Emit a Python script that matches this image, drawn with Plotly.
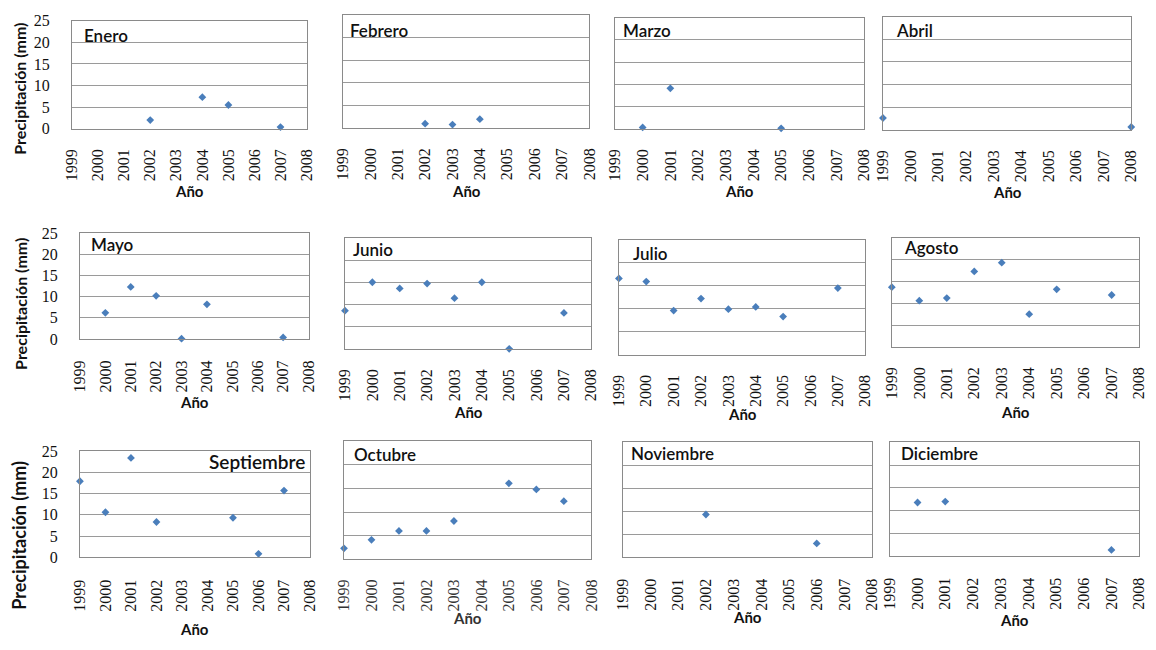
import plotly.graph_objects as go

W, H = 1156, 650

# Year axis shared by every month
anios_eje = list(range(1999, 2009))
y_ticks = [0, 5, 10, 15, 20, 25]

meses = ["Enero", "Febrero", "Marzo", "Abril", "Mayo", "Junio",
         "Julio", "Agosto", "Septiembre", "Octubre", "Noviembre", "Diciembre"]

# Monthly precipitation (mm) by year
enero_anios = [2002, 2004, 2005, 2007]
enero_mm = [2.0, 7.3, 5.5, 0.4]
febrero_anios = [2002, 2003, 2004]
febrero_mm = [0.9, 0.7, 1.9]
marzo_anios = [2000, 2001, 2005]
marzo_mm = [0.3, 9.1, 0.1]
abril_anios = [1999, 2008]
abril_mm = [2.6, 0.6]
mayo_anios = [2000, 2001, 2002, 2003, 2004, 2007]
mayo_mm = [6.2, 12.3, 10.2, 0.1, 8.2, 0.4]
junio_anios = [1999, 2000, 2001, 2002, 2003, 2004, 2005, 2007]
junio_mm = [8.6, 15.0, 13.6, 14.7, 11.4, 15.0, 0.0, 8.1]
julio_anios = [1999, 2000, 2001, 2002, 2003, 2004, 2005, 2007]
julio_mm = [16.6, 15.9, 9.6, 12.2, 9.9, 10.4, 8.3, 14.5]
agosto_anios = [1999, 2000, 2001, 2002, 2003, 2004, 2005, 2007]
agosto_mm = [13.7, 10.6, 11.2, 17.3, 19.3, 7.5, 13.2, 11.9]
septiembre_anios = [1999, 2000, 2001, 2002, 2005, 2006, 2007]
septiembre_mm = [17.9, 10.6, 23.4, 8.3, 9.3, 0.8, 15.7]
octubre_anios = [1999, 2000, 2001, 2002, 2003, 2005, 2006, 2007]
octubre_mm = [2.3, 4.1, 6.0, 6.0, 8.1, 16.1, 14.8, 12.3]
noviembre_anios = [2002, 2006]
noviembre_mm = [9.3, 3.0]
diciembre_anios = [2000, 2001, 2007]
diciembre_mm = [11.8, 12.0, 1.4]

series = [
    (enero_anios, enero_mm), (febrero_anios, febrero_mm),
    (marzo_anios, marzo_mm), (abril_anios, abril_mm),
    (mayo_anios, mayo_mm), (junio_anios, junio_mm),
    (julio_anios, julio_mm), (agosto_anios, agosto_mm),
    (septiembre_anios, septiembre_mm), (octubre_anios, octubre_mm),
    (noviembre_anios, noviembre_mm), (diciembre_anios, diciembre_mm),
]

# Plot-area boxes in pixels: left, top, right, bottom
cajas = [
    (64, 13, 302, 124), (339, 7, 589, 123), (615, 10, 868, 124), (887, 9, 1139, 125),
    (72, 231, 304, 340), (341, 236, 591, 350), (619, 238, 869, 356), (896, 236, 1147, 348),
    (72, 455, 305, 564), (340, 445, 591, 566), (623, 446, 876, 564), (894, 446, 1147, 563),
]
# Month label position (pixels) relative to box top-left
titulo_pos = [
    (10, 15), (5, 16), (6, 13), (11, 14),
    (9, 12), (6, 12), (12, 14), (10, 10),
    (None, 11), (8, 13), (6, 11), (9, 11),
]
# Gap between each box and its year labels
tick_gap = [13, 13, 13, 13, 14, 13, 13, 13, 15, 13, 14, 14]
# Pixel offset of "Año" below each box
anio_off = [64, 65, 64, 64, 65, 65, 61, 67, 74, 60, 61, 65]
# y-title centres for the first column: (x, y, font size)
ytitulos = [(11, 83, 16), (11, 304, 16), (10, 541, 18)]

MARKER = "#4a7ebb"
GRID = "#9a9a9a"
BORDE = "#8a8a8a"

def px_x(v):
    return v / W

def px_y(v):
    return 1 - v / H

fig = go.Figure()
anotaciones = []

for i, ((xs, ys), (L, T, R, B)) in enumerate(zip(series, cajas)):
    n = i + 1
    xa = "x" if n == 1 else f"x{n}"
    ya = "y" if n == 1 else f"y{n}"
    fig.add_trace(go.Scatter(
        x=xs, y=ys, mode="markers", xaxis=xa, yaxis=ya,
        marker=dict(symbol="diamond", size=6, color=MARKER),
        cliponaxis=False, showlegend=False, hoverinfo="x+y",
    ))
    primera_col = (i % 4 == 0)
    texto_col = "#333333" if meses[i] == "Octubre" else "#111111"
    fig.layout[f"xaxis{'' if n == 1 else n}"] = dict(
        domain=[px_x(L), px_x(R)], anchor=ya,
        range=[1999, 2008], tickvals=anios_eje, ticktext=[str(a) for a in anios_eje],
        tickangle=-90, ticks="", ticklabelstandoff=tick_gap[i],
        tickfont=dict(family="Liberation Serif", size=16, color=texto_col),
        showgrid=False, zeroline=False, showline=True, linecolor=BORDE, linewidth=1,
        mirror=True, fixedrange=True,
    )
    fig.layout[f"yaxis{'' if n == 1 else n}"] = dict(
        domain=[px_y(B), px_y(T)], anchor=xa,
        range=[0, 25], tickvals=y_ticks, showticklabels=primera_col,
        ticks="", ticklabelstandoff=18,
        tickfont=dict(family="Liberation Serif", size=16, color="#111111"),
        showgrid=True, gridcolor=GRID, gridwidth=1,
        zeroline=False, showline=True, linecolor=BORDE, linewidth=1,
        mirror=True, fixedrange=True,
    )

    # Month name inside the plot area
    dx, dy = titulo_pos[i]
    fuente_mes = dict(family="Lato", size=17, color="#111111", weight=600)
    if dx is None:
        anotaciones.append(dict(
            text=meses[i], xref="paper", yref="paper",
            x=px_x(R - 3), y=px_y(T + dy), xanchor="right", yanchor="middle",
            showarrow=False, font=dict(fuente_mes, size=19),
        ))
    else:
        anotaciones.append(dict(
            text=meses[i], xref="paper", yref="paper",
            x=px_x(L + dx), y=px_y(T + dy), xanchor="left", yanchor="middle",
            showarrow=False, font=fuente_mes,
        ))

    # X-axis title
    anotaciones.append(dict(
        text="<b>Año</b>", xref="paper", yref="paper",
        x=px_x((L + R) / 2), y=px_y(B + anio_off[i]), xanchor="center", yanchor="middle",
        showarrow=False, font=dict(family="Lato", size=15, color=texto_col),
    ))

for (cx, cy, fs) in ytitulos:
    anotaciones.append(dict(
        text="<b>Precipitación (mm)</b>", xref="paper", yref="paper",
        x=px_x(cx), y=px_y(cy), xanchor="center", yanchor="middle", textangle=-90,
        showarrow=False, font=dict(family="Lato", size=fs, color="#111111"),
    ))

fig.update_layout(
    width=W, height=H, margin=dict(l=0, r=0, t=0, b=0),
    paper_bgcolor="white", plot_bgcolor="white",
    annotations=anotaciones, showlegend=False,
)

fig.write_html("out.html", config={"displayModeBar": False})
